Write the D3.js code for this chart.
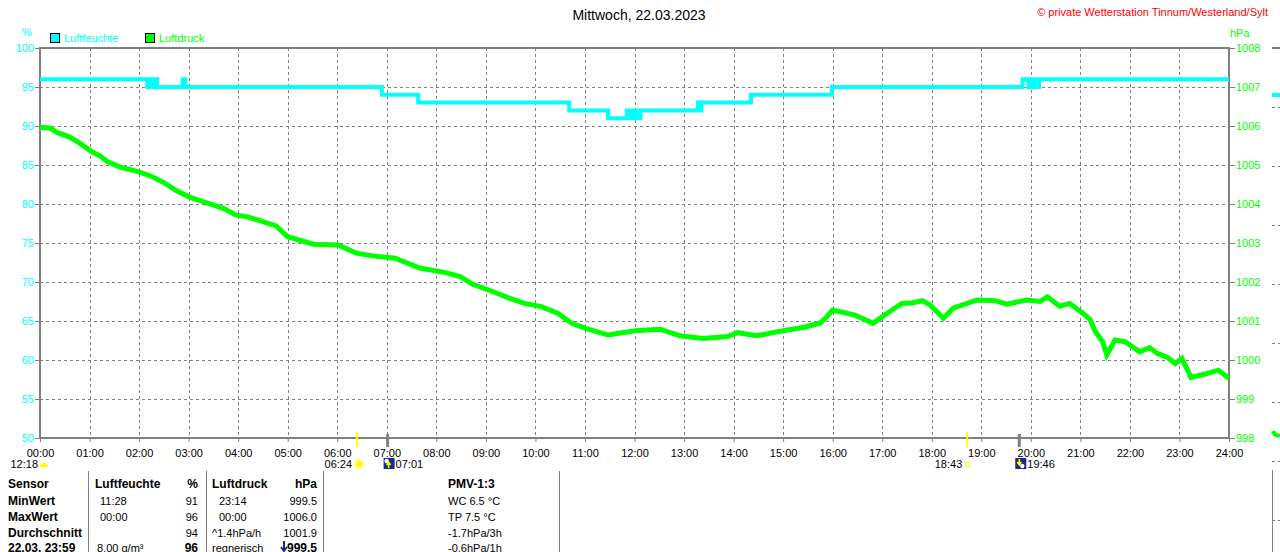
<!DOCTYPE html>
<html>
<head>
<meta charset="utf-8">
<script src="https://cdn.jsdelivr.net/npm/d3@7"></script>
<style>
  body { margin: 0; background: #fff; }
  svg text { font-family: "Liberation Sans", Arial, sans-serif; }
</style>
</head>
<body>
<svg class="wetter" width="1280" height="552"></svg>
<script>
// hour tick labels
const hourLabels = ["00:00","01:00","02:00","03:00","04:00","05:00","06:00","07:00","08:00",
    "09:00","10:00","11:00","12:00","13:00","14:00","15:00","16:00","17:00","18:00",
    "19:00","20:00","21:00","22:00","23:00","24:00"];
const humTicks = [50, 55, 60, 65, 70, 75, 80, 85, 90, 95, 100];
const presTicks = [998, 999, 1000, 1001, 1002, 1003, 1004, 1005, 1006, 1007, 1008];

// Luftfeuchte (step values)
const humTime = ["00:00","02:10","02:12","02:17","02:19","02:22","02:53","02:56","06:54","07:38",
    "10:41","11:28","11:51","11:55","11:58","12:02","12:07","13:17","13:19","13:21","14:21",
    "15:59","19:50","19:57","20:01","20:05","20:10","24:00"];
const humVal = [96, 95, 96, 95, 96, 95, 96, 95, 94, 93,
    92, 91, 92, 91, 92, 91, 92, 93, 92, 93, 94,
    95, 96, 95, 96, 95, 96, 96];

// Luftdruck
const presTime = ["00:00","00:12","00:21","00:35","00:48","01:03","01:13","01:22","01:38","01:59",
    "02:16","02:30","02:47","03:02","03:23","03:42","03:57","04:11","04:30","04:46",
    "05:00","05:31","06:01","06:23","06:43","07:10","07:40","08:11","08:29","08:44",
    "09:09","09:29","09:47","10:07","10:27","10:44","11:01","11:28","12:01","12:31",
    "12:55","13:23","13:53","14:05","14:28","15:00","15:26","15:45","15:53","16:00",
    "16:27","16:49","17:06","17:24","17:37","17:49","17:58","18:14","18:26","18:55",
    "19:17","19:31","19:55","20:11","20:20","20:35","20:47","21:03","21:12","21:18",
    "21:27","21:32","21:42","21:54","22:12","22:24","22:33","22:45","22:55","23:03",
    "23:14","23:31","23:47","24:00"];
const presVal = [1005.97,1005.95,1005.83,1005.73,1005.56,1005.34,1005.23,1005.08,1004.94,1004.83,
    1004.70,1004.55,1004.32,1004.17,1004.02,1003.89,1003.72,1003.67,1003.55,1003.44,
    1003.16,1002.97,1002.95,1002.74,1002.67,1002.61,1002.36,1002.24,1002.14,1001.94,
    1001.75,1001.58,1001.45,1001.37,1001.20,1000.94,1000.81,1000.64,1000.75,1000.79,
    1000.62,1000.55,1000.60,1000.70,1000.62,1000.75,1000.84,1000.95,1001.11,1001.28,
    1001.15,1000.94,1001.20,1001.45,1001.47,1001.52,1001.41,1001.07,1001.33,1001.54,
    1001.52,1001.43,1001.54,1001.50,1001.62,1001.38,1001.45,1001.20,1001.03,1000.73,
    1000.47,1000.13,1000.51,1000.47,1000.21,1000.32,1000.17,1000.07,999.91,1000.04,
    999.55,999.64,999.74,999.53];

// Sonne / Mond
const sunTimes = ["06:24", "18:43"];
const twiTimes = ["07:01", "19:46"];
const moonLabel = "12:18";

// Tabelle
const rowLabels = ["Sensor", "MinWert", "MaxWert", "Durchschnitt", "22.03. 23:59"];
const humCol = ["Luftfeuchte", "11:28", "00:00", "", "8.00 g/m³"];
const humColVal = ["%", "91", "96", "94", "96"];
const presCol = ["Luftdruck", "23:14", "00:00", "^1.4hPa/h", "regnerisch"];
const presColVal = ["hPa", "999.5", "1006.0", "1001.9", "999.5"];
const pmvCol = ["PMV-1:3", "WC 6.5 °C", "TP 7.5 °C", "-1.7hPa/3h", "-0.6hPa/1h"];

const toMin = s => { const p = s.split(":"); return +p[0] * 60 + +p[1]; };

let svg = d3.select("svg.wetter"),
    margin = {top: 48, left: 40, right: 51, bottom: 114},
    width = 1280 - margin.left - margin.right,
    height = 552 - margin.top - margin.bottom;

const grey = "#808080", cyan = "#00ffff", green = "#00ff00";

let xScale = d3.scaleLinear().domain([0, 1440]).range([margin.left, margin.left + width]);
let yHum = d3.scaleLinear().domain([50, 100]).range([margin.top + height, margin.top]);
let yPres = d3.scaleLinear().domain([998, 1008]).range([margin.top + height, margin.top]);

// title
svg.append("text")
    .attr("x", 639).attr("y", 20)
    .attr("text-anchor", "middle")
    .attr("font-size", "14px")
    .attr("fill", "#000")
    .text("Mittwoch, 22.03.2023");
svg.append("text")
    .attr("x", 1268).attr("y", 16)
    .attr("text-anchor", "end")
    .attr("font-size", "11px")
    .attr("fill", "#ff0000")
    .text("© private Wetterstation Tinnum/Westerland/Sylt");

// unit labels
svg.append("text").attr("x", 27).attr("y", 36).attr("text-anchor", "middle")
    .attr("font-size", "11px").attr("fill", cyan).text("%");
svg.append("text").attr("x", 1230).attr("y", 37)
    .attr("font-size", "11px").attr("fill", green).text("hPa");

// legend
const legend = [["Luftfeuchte", cyan, 50], ["Luftdruck", green, 145]];
legend.forEach(l => {
    svg.append("rect").attr("x", l[2] + 0.5).attr("y", 33.5).attr("width", 9).attr("height", 9)
        .attr("fill", l[1]).attr("stroke", "#000").attr("stroke-width", 1);
    svg.append("text").attr("x", l[2] + 14).attr("y", 42)
        .attr("font-size", "11px").attr("fill", l[1]).text(l[0]);
});

// grid
let grid = svg.append("g")
    .attr("stroke", grey).attr("stroke-width", 1).attr("stroke-dasharray", "3,3");
grid.selectAll(".vgrid")
    .data(hourLabels.map(toMin).slice(1, -1))
    .join("line")
    .attr("x1", d => Math.round(xScale(d)) + 0.5).attr("x2", d => Math.round(xScale(d)) + 0.5)
    .attr("y1", margin.top).attr("y2", margin.top + height);
grid.selectAll(".hgrid")
    .data(humTicks.slice(1, -1))
    .join("line")
    .attr("x1", margin.left).attr("x2", margin.left + width)
    .attr("y1", d => Math.round(yHum(d)) + 0.5).attr("y2", d => Math.round(yHum(d)) + 0.5);

// axes
let axLeft = svg.append("g")
    .attr("transform", "translate(" + margin.left + ",0)")
    .call(d3.axisLeft(yHum).tickValues(humTicks).tickSize(5).tickPadding(1));
axLeft.selectAll("text").attr("fill", cyan).attr("font-size", "11px");
let axRight = svg.append("g")
    .attr("transform", "translate(" + (margin.left + width) + ",0)")
    .call(d3.axisRight(yPres).tickValues(presTicks).tickFormat(d3.format("d"))
        .tickSize(6).tickPadding(1));
axRight.selectAll("text").attr("fill", green).attr("font-size", "11px");
let axBottom = svg.append("g")
    .attr("transform", "translate(0," + (margin.top + height) + ")")
    .call(d3.axisBottom(xScale).tickValues(hourLabels.map(toMin))
        .tickFormat((d, i) => hourLabels[i]).tickSize(4).tickPadding(7));
axBottom.selectAll("text").attr("fill", "#000").attr("font-size", "11px");
[axLeft, axRight, axBottom].forEach(a => {
    a.select(".domain").remove();
    a.selectAll("line").attr("stroke", grey);
    a.attr("font-family", null);
});

// frame
svg.append("rect")
    .attr("x", margin.left).attr("y", margin.top)
    .attr("width", width).attr("height", height)
    .attr("fill", "none").attr("stroke", grey).attr("stroke-width", 2);

// Luftdruck
svg.append("path")
    .datum(presTime.map((t, i) => [toMin(t), presVal[i]]))
    .attr("fill", "none")
    .attr("stroke", green)
    .attr("stroke-width", 5)
    .attr("d", d3.line().x(d => xScale(d[0])).y(d => yPres(d[1])));

// Luftfeuchte
svg.append("path")
    .datum(humTime.map((t, i) => [toMin(t), humVal[i]]))
    .attr("fill", "none")
    .attr("stroke", cyan)
    .attr("stroke-width", 4)
    .attr("d", d3.line().curve(d3.curveStepAfter).x(d => xScale(d[0])).y(d => yHum(d[1])));

// sun rise / set markers
const base = margin.top + height;
sunTimes.forEach((t, i) => {
    let x = xScale(toMin(t));
    svg.append("line").attr("x1", x).attr("x2", x).attr("y1", base - 6).attr("y2", base + 9)
        .attr("stroke", "#ffff00").attr("stroke-width", 2);
    svg.append("text").attr("x", x - 5).attr("y", 468).attr("text-anchor", "end")
        .attr("font-size", "11px").attr("fill", "#000").text(t);
    if (i === 0) {
        svg.append("circle").attr("cx", x + 2).attr("cy", 464).attr("r", 3.5).attr("fill", "#ffff00");
        svg.append("circle").attr("cx", x + 2).attr("cy", 464).attr("r", 5.5)
            .attr("fill", "none").attr("stroke", "#ffff00").attr("stroke-dasharray", "1.5,1.5");
    } else {
        svg.append("rect").attr("x", x - 1.5).attr("y", 462.5).attr("width", 4).attr("height", 4)
            .attr("fill", "none").attr("stroke", "#ffff00");
    }
});
twiTimes.forEach((t, i) => {
    let x = xScale(toMin(t));
    svg.append("line").attr("x1", x).attr("x2", x).attr("y1", base - 4).attr("y2", base + 9)
        .attr("stroke", grey).attr("stroke-width", 3);
    let g = svg.append("g").attr("transform", "translate(" + (x - 4) + ",458)");
    g.append("rect").attr("width", 11).attr("height", 11).attr("fill", "#1c2a8c");
    g.append("circle").attr("cx", i ? 7 : 3).attr("cy", i ? 8 : 3).attr("r", 2.2).attr("fill", "#fff");
    g.append("path")
        .attr("d", i ? "M4,1 L4,6 M2,4 L4,7 L6,4" : "M5,10 L5,5 M3,7 L5,4 L7,7")
        .attr("stroke", "#ffff00").attr("stroke-width", 1.5).attr("fill", "none");
    svg.append("text").attr("x", x + 8).attr("y", 468)
        .attr("font-size", "11px").attr("fill", "#000").text(t);
});
// moon
svg.append("text").attr("x", 38).attr("y", 468).attr("text-anchor", "end")
    .attr("font-size", "11px").attr("fill", "#000").text(moonLabel);
svg.append("path").attr("d", "M40,467 A4,4 0 0 1 48,467 Z").attr("fill", "#ffff00");

// table
const rowY = [488, 505, 521, 537, 552];
[88, 206, 323, 559].forEach(x => {
    svg.append("line").attr("x1", x + 0.5).attr("x2", x + 0.5).attr("y1", 471).attr("y2", 552)
        .attr("stroke", grey).attr("stroke-width", 1);
});
function col(arr, x, anchor, boldRows) {
    svg.append("g").selectAll("text")
        .data(arr)
        .join("text")
        .attr("x", x)
        .attr("y", (d, i) => rowY[i])
        .attr("text-anchor", anchor)
        .attr("font-size", (d, i) => boldRows.includes(i) ? "12px" : "11px")
        .attr("font-weight", (d, i) => boldRows.includes(i) ? "bold" : "normal")
        .attr("fill", "#000")
        .text(d => d);
}
col(rowLabels, 8, "start", [0, 1, 2, 3, 4]);
col(humCol.map((d, i) => i === 0 ? d : ""), 95, "start", [0]);
col(humCol.map((d, i) => i === 0 || i === 4 ? "" : d), 100, "start", []);
col(humCol.map((d, i) => i === 4 ? d : ""), 97, "start", []);
col(humColVal, 198, "end", [0, 4]);
col(presCol.map((d, i) => i === 1 || i === 2 ? "" : d), 212, "start", [0]);
col(presCol.map((d, i) => i === 1 || i === 2 ? d : ""), 219, "start", []);
col(presColVal, 317, "end", [0, 4]);
col(pmvCol, 448, "start", [0]);
// trend arrow
svg.append("path").attr("d", "M284,541 L284,551 M281,547 L284,551 L287,547")
    .attr("stroke", "#1c2a8c").attr("stroke-width", 2).attr("fill", "none");

// next panel, cut off at right edge
const stubX = 1272;
svg.append("line").attr("x1", stubX).attr("x2", 1280).attr("y1", 48).attr("y2", 48)
    .attr("stroke", grey).attr("stroke-width", 2);
svg.append("line").attr("x1", stubX).attr("x2", 1280).attr("y1", 95).attr("y2", 95)
    .attr("stroke", cyan).attr("stroke-width", 4);
svg.append("path").attr("d", "M1273,431 Q1275,437 1280,435")
    .attr("stroke", green).attr("stroke-width", 4).attr("fill", "none");
svg.append("g").selectAll("line")
    .data([107, 166, 225, 284, 343, 402, 461, 520])
    .join("line")
    .attr("x1", stubX).attr("x2", 1280).attr("y1", d => d + 0.5).attr("y2", d => d + 0.5)
    .attr("stroke", grey).attr("stroke-dasharray", "3,3");
svg.append("line").attr("x1", stubX + 0.5).attr("x2", stubX + 0.5).attr("y1", 470).attr("y2", 552)
    .attr("stroke", grey);
</script>
</body>
</html>
